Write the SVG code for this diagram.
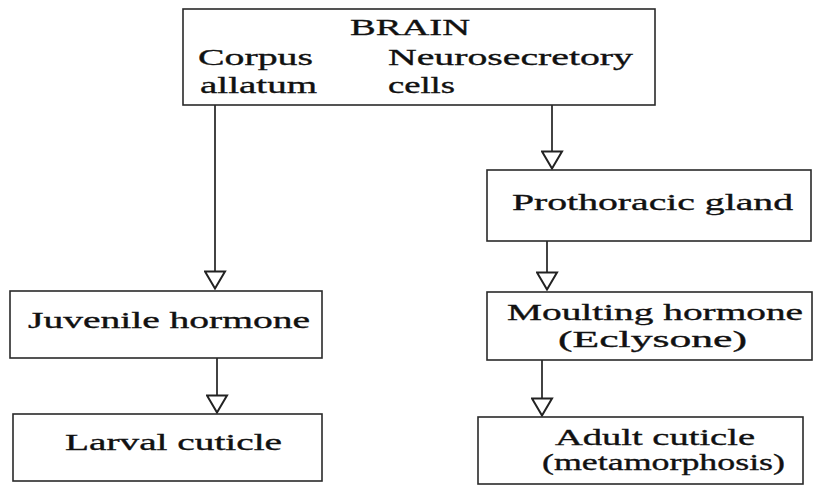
<svg xmlns="http://www.w3.org/2000/svg" width="815" height="485" viewBox="0 0 815 485">
<defs>
<style>
.box{fill:#fff;stroke:#2a2a2a;stroke-width:1.6}
.t{font-family:"Liberation Serif","Times New Roman",serif;font-size:24px;fill:#111;stroke:#111;stroke-width:0.35}
.c{fill:none;stroke:#222;stroke-width:1.7}
</style>
<marker id="ah" viewBox="0 0 20 23" refX="19" refY="11.5" markerWidth="20" markerHeight="23" markerUnits="userSpaceOnUse" orient="auto">
<path d="M1.5,1.5 L18.5,11.5 L1.5,21.5 Z" fill="#fff" stroke="#222" stroke-width="2"/>
</marker>
</defs>
<rect width="815" height="485" fill="#fff"/>
<g id="connectors">
<path class="c" d="M215,105 V289" marker-end="url(#ah)"/>
<path class="c" d="M552,105 V169" marker-end="url(#ah)"/>
<path class="c" d="M547,241 V290" marker-end="url(#ah)"/>
<path class="c" d="M542,360 V416" marker-end="url(#ah)"/>
<path class="c" d="M217,358 V413" marker-end="url(#ah)"/>
</g>
<g id="brain">
<rect class="box" x="183" y="9" width="472" height="96"/>
<text class="t" x="350" y="35" textLength="120" lengthAdjust="spacingAndGlyphs">BRAIN</text>
<text class="t" x="198" y="65" textLength="115" lengthAdjust="spacingAndGlyphs">Corpus</text>
<text class="t" x="200" y="93" textLength="117" lengthAdjust="spacingAndGlyphs">allatum</text>
<text class="t" x="388" y="65" textLength="245" lengthAdjust="spacingAndGlyphs">Neurosecretory</text>
<text class="t" x="388" y="93" textLength="67" lengthAdjust="spacingAndGlyphs">cells</text>
</g>
<g id="prothoracic">
<rect class="box" x="487" y="170" width="324" height="71"/>
<text class="t" x="512" y="210" textLength="281" lengthAdjust="spacingAndGlyphs">Prothoracic gland</text>
</g>
<g id="moulting">
<rect class="box" x="487" y="292" width="325" height="68"/>
<text class="t" x="507" y="320" textLength="296" lengthAdjust="spacingAndGlyphs">Moulting hormone</text>
<text class="t" x="558" y="347" textLength="189" lengthAdjust="spacingAndGlyphs">(Eclysone)</text>
</g>
<g id="adult">
<rect class="box" x="478" y="417" width="325" height="67"/>
<text class="t" x="555" y="445" textLength="200" lengthAdjust="spacingAndGlyphs">Adult cuticle</text>
<text class="t" x="542" y="470" textLength="243" lengthAdjust="spacingAndGlyphs">(metamorphosis)</text>
</g>
<g id="juvenile">
<rect class="box" x="10" y="291" width="312" height="67"/>
<text class="t" x="28" y="328" textLength="282" lengthAdjust="spacingAndGlyphs">Juvenile hormone</text>
</g>
<g id="larval">
<rect class="box" x="13" y="414" width="309" height="67"/>
<text class="t" x="65" y="450" textLength="217" lengthAdjust="spacingAndGlyphs">Larval cuticle</text>
</g>
</svg>
